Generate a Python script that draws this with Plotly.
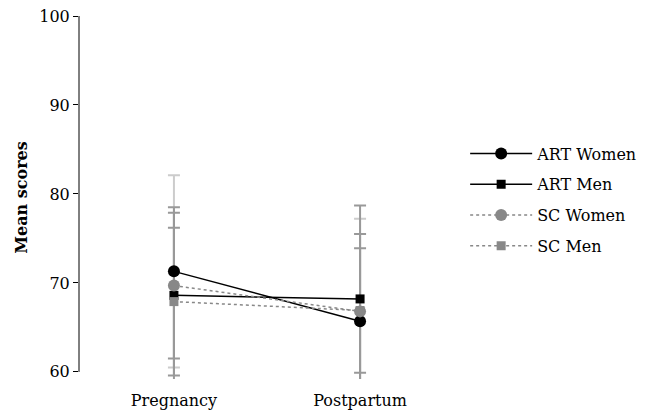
import plotly.graph_objects as go

periods = ["Pregnancy", "Postpartum"]
series = ["ART Women", "ART Men", "SC Women", "SC Men"]
means = {
    "ART Women": [71.3, 65.7],
    "ART Men": [68.6, 68.2],
    "SC Women": [69.7, 66.8],
    "SC Men": [67.9, 66.9],
}
errors = {
    "ART Women": [10.8, 11.5],
    "ART Men": [9.9, 10.5],
    "SC Women": [8.2, 8.7],
    "SC Men": [8.3, 7.0],
}
y_ticks = [60, 70, 80, 90, 100]

styles = {
    "ART Women": dict(color="#000000", symbol="circle", size=12, dash="solid", ebar="#cccccc"),
    "ART Men": dict(color="#000000", symbol="square", size=9, dash="solid", ebar="#999999"),
    "SC Women": dict(color="#888888", symbol="circle", size=12, dash="3px,3px", ebar="#999999"),
    "SC Men": dict(color="#888888", symbol="square", size=9, dash="3px,3px", ebar="#999999"),
}

fig = go.Figure()

# error bars first (behind all lines/markers)
for s in series:
    st = styles[s]
    fig.add_trace(go.Scatter(
        x=periods, y=means[s], mode="markers",
        marker=dict(size=0.1, color="rgba(0,0,0,0)"),
        error_y=dict(type="data", array=errors[s], color=st["ebar"], thickness=2, width=6),
        showlegend=False, hoverinfo="skip",
    ))

for s in series:
    st = styles[s]
    fig.add_trace(go.Scatter(
        x=periods, y=means[s], mode="lines+markers", name=s,
        line=dict(color=st["color"], width=1.5, dash=st["dash"]),
        marker=dict(color=st["color"], symbol=st["symbol"], size=st["size"]),
        cliponaxis=False, legendgroup=s,
    ))

# y-axis line only spans the labelled range 60-100
fig.add_shape(type="line", xref="paper", x0=0, x1=0, yref="y", y0=60, y1=100,
              line=dict(color="#000000", width=1))

fig.update_layout(
    width=646, height=415,
    margin=dict(l=79, r=191, t=16, b=36, autoexpand=False),
    paper_bgcolor="white", plot_bgcolor="white",
    font=dict(family="DejaVu Serif", size=15, color="#000000"),
    showlegend=True,
    legend=dict(x=1.027, y=0.668, xanchor="left", yanchor="top",
                font=dict(family="DejaVu Serif", size=16, color="#000000"),
                itemwidth=62, tracegroupgap=7, traceorder="grouped"),
    xaxis=dict(range=[-0.51, 1.51], showline=False, ticks="", showgrid=False,
               zeroline=False, tickfont=dict(size=16), ticklabelstandoff=10,
               automargin=False),
    yaxis=dict(range=[59.2, 100], tickvals=y_ticks, showline=False,
               ticks="outside", ticklen=5, tickcolor="#000000",
               showgrid=False, zeroline=False, tickfont=dict(size=16),
               automargin=False,
               title=dict(text="<b>Mean scores</b>", standoff=7,
                          font=dict(size=16))),
)

fig.write_html("out.html")
